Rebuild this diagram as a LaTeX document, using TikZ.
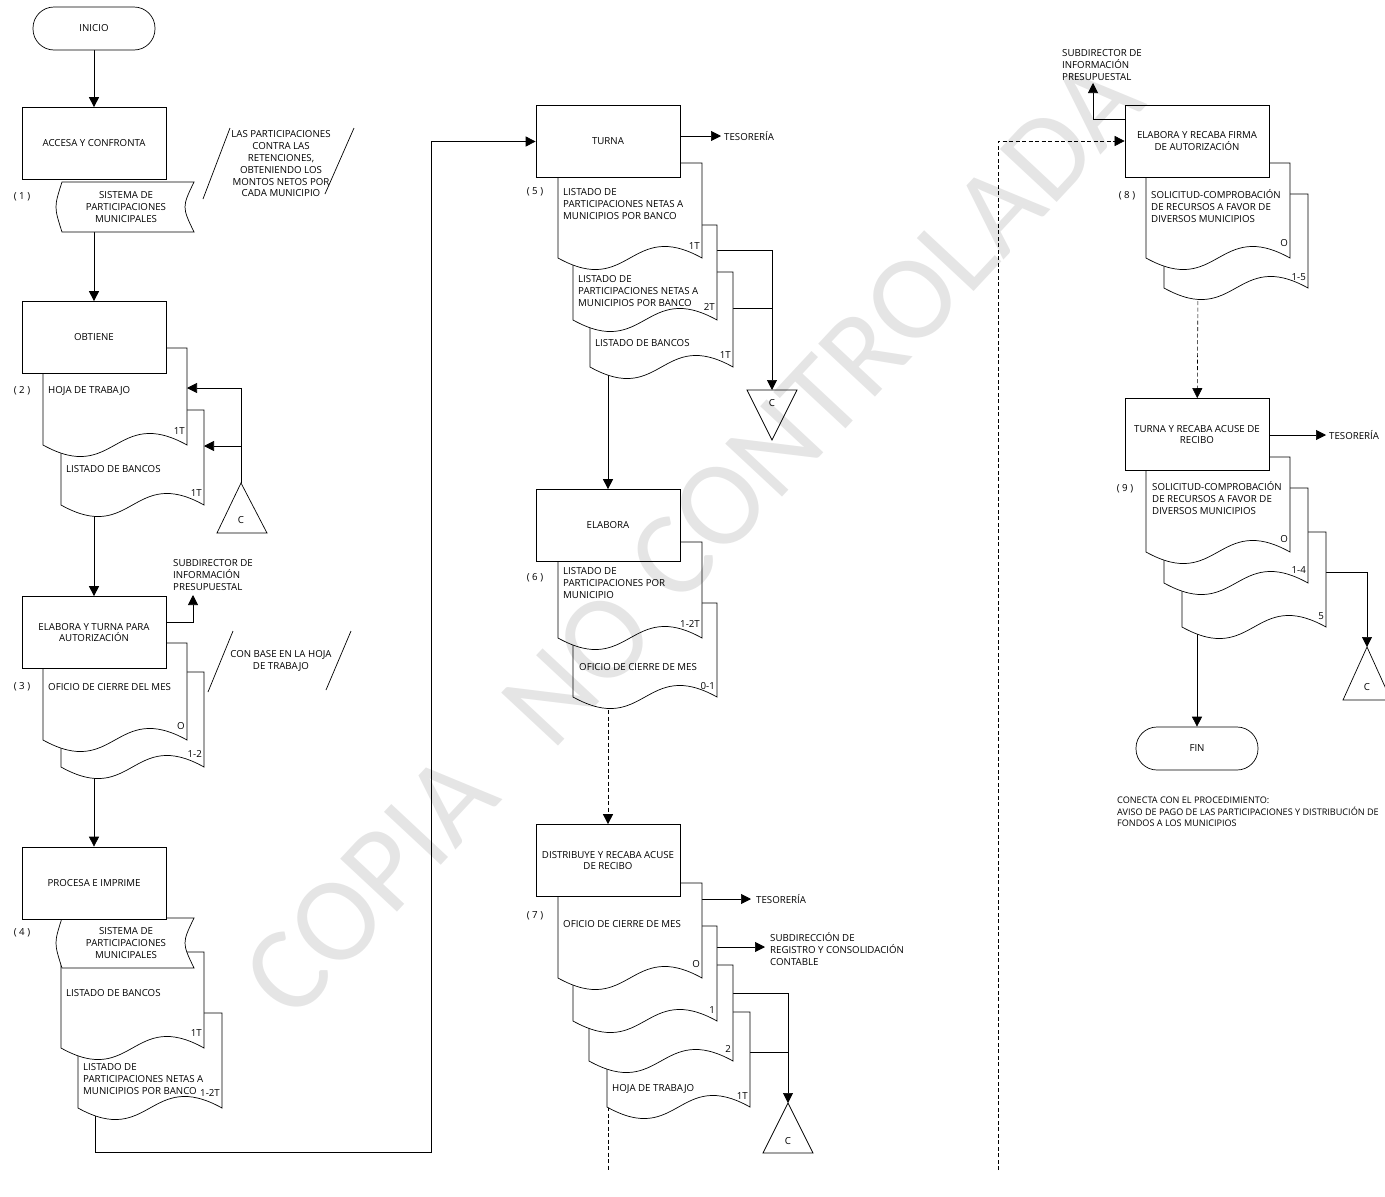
\documentclass[tikz,border=0pt]{standalone}
\usepackage{fontspec}
\setmainfont{Open Sans}
\newfontfamily\wmfont{Carlito}
\usetikzlibrary{arrows.meta,backgrounds}
\newcommand\fs{\fontsize{9.7}{11.8}\selectfont}
\tikzset{
  ln/.style={line width=0.7pt},
  proc/.style={ln,draw,fill=white,rectangle,minimum width=144pt,minimum height=72pt,inner sep=2pt,align=center,font=\fs},
  term/.style={ln,draw,fill=white,rectangle,rounded corners=21pt,minimum width=122pt,minimum height=43pt,font=\fs},
  lbl/.style={inner sep=0pt,font=\fs,align=left,anchor=west},
  clbl/.style={inner sep=0pt,font=\fs,align=center},
  cnt/.style={inner sep=0pt,font=\fs,anchor=east},
  arr/.style={ln,-{Triangle[length=10pt,width=10pt]}},
  dsh/.style={line width=0.6pt,dash pattern=on 4pt off 2.5pt},
  darr/.style={dsh,-{Triangle[length=10pt,width=10pt]}},
  shp/.style={ln,draw,fill=white},
  wm/.style={rotate=47,inner sep=0pt,font=\wmfont\fontsize{121}{121}\selectfont,text=black,text opacity=0.1},
}
\newcommand\docsh[4]{\path[shp] (#1,#3) -- (#2,#3) -- (#2,#4) .. controls ({(#1+#2)/2},{#4-40}) and ({(#1+#2)/2},{#4+40}) .. (#1,#4) -- cycle;}
\newcommand\tapesh[4]{\path[shp] (#1+4,#3) -- (#2,#3) .. controls (#2-12,{(#3+#4)/2}) .. (#2,#4) -- (#1+4,#4) .. controls (#1-4,{(#3+#4)/2}) .. (#1+4,#3) -- cycle;}
\begin{document}
\begin{tikzpicture}[x=1pt,y=-1pt]
\useasboundingbox (0,0) rectangle (1385,1197);
% ---------- column 1 ----------
\node[term] (inicio) at (94,28.5) {INICIO};
\tapesh{58}{194}{182}{232}
\node[proc] (p1) at (94,143.5) {ACCESA Y CONFRONTA};
\node[clbl] (t1txt) at (126,207) {SISTEMA DE\\PARTICIPACIONES\\MUNICIPALES};
\node[clbl] (n1) at (22,197) {( 1 )};
\draw[ln] (203,199) -- (230,128);
\draw[ln] (325,194) -- (354,128);
\node[clbl] (a1) at (281,164) {LAS PARTICIPACIONES\\CONTRA LAS\\RETENCIONES,\\OBTENIENDO LOS\\MONTOS NETOS POR\\CADA MUNICIPIO};
% step 2
\docsh{61}{204}{410}{505}
\docsh{43}{187}{348}{445}
\node[proc] (p2) at (94,337.5) {OBTIENE};
\node[lbl] (d2at) at (48,391) {HOJA DE TRABAJO};
\node[cnt] (d2ac) at (185,431) {1T};
\node[lbl] (d2bt) at (66,469) {LISTADO DE BANCOS};
\node[cnt] (d2bc) at (202,493) {1T};
\node[clbl] (n2) at (22,391) {( 2 )};
\path[shp] (241,483) -- (267,533) -- (217,533) -- cycle;
\node[clbl] (c2t) at (241,520) {C};
% step 3
\docsh{61}{204}{672}{767}
\docsh{43}{187}{643}{740}
\node[proc] (p3) at (94,632.5) {ELABORA Y TURNA PARA\\AUTORIZACIÓN};
\node[lbl] (d3at) at (48,687) {OFICIO DE CIERRE DEL MES};
\node[cnt] (d3ac) at (185,726) {O};
\node[cnt] (d3bc) at (202,754) {1-2};
\node[clbl] (n3) at (22,687) {( 3 )};
\node[lbl] (s3) at (173,575) {SUBDIRECTOR DE\\INFORMACIÓN\\PRESUPUESTAL};
\draw[ln] (208,692) -- (233,631);
\draw[ln] (326,690) -- (351,631);
\node[clbl] (a2) at (281,661) {CON BASE EN LA HOJA\\DE TRABAJO};
% step 4
\docsh{78}{222}{1013}{1108}
\docsh{61}{204}{952}{1048}
\tapesh{58}{194}{918}{968}
\node[proc] (p4) at (94,883) {PROCESA E IMPRIME};
\node[clbl] (t4txt) at (126,943) {SISTEMA DE\\PARTICIPACIONES\\MUNICIPALES};
\node[lbl] (d4at) at (66,993) {LISTADO DE BANCOS};
\node[cnt] (d4ac) at (202,1033) {1T};
\node[lbl] (d4bt) at (83,1079) {LISTADO DE\\PARTICIPACIONES NETAS A\\MUNICIPIOS POR BANCO};
\node[cnt] (d4bc) at (220,1093) {1-2T};
\node[clbl] (n4) at (22,933) {( 4 )};
% ---------- column 2 ----------
\docsh{590}{733}{272}{367}
\docsh{573}{717}{225}{320}
\docsh{558}{702}{163}{258}
\node[proc] (p5) at (608,141.5) {TURNA};
\node[lbl] (d5at) at (563,204) {LISTADO DE\\PARTICIPACIONES NETAS A\\MUNICIPIOS POR BANCO};
\node[cnt] (d5ac) at (700,246) {1T};
\node[lbl] (d5bt) at (578,291) {LISTADO DE\\PARTICIPACIONES NETAS A\\MUNICIPIOS POR BANCO};
\node[cnt] (d5bc) at (715,307) {2T};
\node[lbl] (d5ct) at (595,343) {LISTADO DE BANCOS};
\node[cnt] (d5cc) at (731,355) {1T};
\node[clbl] (n5) at (535,192) {( 5 )};
\node[lbl] (tes5) at (724,136) {TESORERÍA};
\path[shp] (747,390) -- (797,390) -- (772,440) -- cycle;
\node[clbl] (c5t) at (772,403) {C};
% step 6
\docsh{573}{717}{603}{697}
\docsh{558}{702}{542}{638}
\node[proc] (p6) at (608,525.5) {ELABORA};
\node[lbl] (d6at) at (563,583) {LISTADO DE\\PARTICIPACIONES POR\\MUNICIPIO};
\node[cnt] (d6ac) at (700,624) {1-2T};
\node[lbl] (d6bt) at (579,667) {OFICIO DE CIERRE DE MES};
\node[cnt] (d6bc) at (715,686) {0-1};
\node[clbl] (n6) at (535,578) {( 6 )};
% step 7
\docsh{607}{750}{1012}{1107}
\docsh{589}{733}{965}{1061}
\docsh{573}{717}{926}{1021}
\docsh{558}{702}{883}{978}
\node[proc] (p7) at (608,860.5) {DISTRIBUYE Y RECABA ACUSE\\DE RECIBO};
\node[lbl] (d7at) at (563,924) {OFICIO DE CIERRE DE MES};
\node[cnt] (d7ac) at (700,964) {O};
\node[cnt] (d7bc) at (715,1010) {1};
\node[cnt] (d7cc) at (731,1049) {2};
\node[lbl] (d7dt) at (612,1089) {HOJA DE TRABAJO};
\node[cnt] (d7dc) at (748,1096) {1T};
\node[clbl] (n7) at (535,916) {( 7 )};
\node[lbl] (tes7) at (756,899) {TESORERÍA};
\node[lbl] (sub7) at (770,949) {SUBDIRECCIÓN DE\\REGISTRO Y CONSOLIDACIÓN\\CONTABLE};
\path[shp] (788,1103) -- (813,1153) -- (763,1153) -- cycle;
\node[clbl] (c7t) at (788,1141) {C};
% ---------- column 3 ----------
\docsh{1164}{1308}{194}{288}
\docsh{1146}{1290}{163}{258}
\node[proc] (p8) at (1197,141) {ELABORA Y RECABA FIRMA\\DE AUTORIZACIÓN};
\node[lbl] (d8at) at (1151,206) {SOLICITUD-COMPROBACIÓN\\DE RECURSOS A FAVOR DE\\DIVERSOS MUNICIPIOS};
\node[cnt] (d8ac) at (1288,243) {O};
\node[cnt] (d8bc) at (1306,277) {1-5};
\node[clbl] (n8) at (1127,196) {( 8 )};
\node[lbl] (s8) at (1062,65) {SUBDIRECTOR DE\\INFORMACIÓN\\PRESUPUESTAL};
% step 9
\docsh{1182}{1326}{532}{627}
\docsh{1164}{1308}{488}{583}
\docsh{1146}{1290}{457}{552}
\node[proc] (p9) at (1197,434.5) {TURNA Y RECABA ACUSE DE\\RECIBO};
\node[lbl] (d9at) at (1152,498) {SOLICITUD-COMPROBACIÓN\\DE RECURSOS A FAVOR DE\\DIVERSOS MUNICIPIOS};
\node[cnt] (d9ac) at (1288,539) {O};
\node[cnt] (d9bc) at (1306,570) {1-4};
\node[cnt] (d9cc) at (1324,616) {5};
\node[clbl] (n9) at (1125,489) {( 9 )};
\node[lbl] (tes9) at (1329,435) {TESORERÍA};
\path[shp] (1367,647) -- (1391,700) -- (1343,700) -- cycle;
\node[clbl] (c9t) at (1367,687) {C};
\node[term] (fin) at (1197,748.5) {FIN};
\node[lbl,font=\fontsize{9.1}{11.6}\selectfont] (con) at (1117,812) {CONECTA CON EL PROCEDIMIENTO:\\AVISO DE PAGO DE LAS PARTICIPACIONES Y DISTRIBUCIÓN DE\\FONDOS A LOS MUNICIPIOS};
% ---------- coordinates ----------
\coordinate (t1) at (94,207);
\coordinate (c2) at (241,483);
\coordinate (c2j) at (241,446);
\coordinate (d2ar) at (187,388);
\coordinate (d2br) at (204,446);
\coordinate (b2) at (94,505);
\coordinate (p3o) at (166,622);
\coordinate (u3) at (193,595);
\coordinate (b3) at (94,767);
\coordinate (b4) at (95,1108);
\coordinate (k1) at (431,1152);
\coordinate (p5o) at (680,136);
\coordinate (d5br) at (717,250);
\coordinate (d5cr) at (733,308);
\coordinate (c5) at (772,390);
\coordinate (c5j) at (772,308);
\coordinate (b5) at (608,367);
\coordinate (b6) at (608,697);
\coordinate (d7ar) at (702,899);
\coordinate (d7br) at (717,947);
\coordinate (d7cr) at (733,993);
\coordinate (d7dr) at (750,1052);
\coordinate (c7) at (788,1103);
\coordinate (c7j) at (788,1052);
\coordinate (b7) at (608,1107);
\coordinate (e7) at (608,1170);
\coordinate (e8) at (998,1170);
\coordinate (p8o) at (1125,119);
\coordinate (u8) at (1093,83);
\coordinate (b8) at (1198,288);
\coordinate (p9o) at (1269,435);
\coordinate (d9cr) at (1326,572);
\coordinate (c9) at (1367,647);
\coordinate (b9) at (1197,627);
% ---------- connectors ----------
\begin{pgfonlayer}{background}
\fill[white] (0,0) rectangle (1385,1197);
\draw[arr] (inicio) -- (p1);
\draw[arr] (t1) -- (p2);
\draw[arr] (c2) |- (d2ar);
\draw[arr] (c2j) -- (d2br);
\draw[arr] (b2) -- (p3);
\draw[arr] (p3o) -| (u3);
\draw[arr] (b3) -- (p4);
\draw[arr] (b4) |- (k1) |- (p5.west);
\draw[arr] (p5o) -- ([xshift=-3pt]tes5.west);
\draw[arr] (d5br) -| (c5);
\draw[ln] (d5cr) -- (c5j);
\draw[arr] (b5) -- (p6);
\draw[darr] (b6) -- (p7);
\draw[arr] (d7ar) -- ([xshift=-5pt]tes7.west);
\draw[arr] (d7br) -- ([xshift=-5pt]sub7.west |- d7br);
\draw[arr] (d7cr) -| (c7);
\draw[ln] (d7dr) -- (c7j);
\draw[dsh] (b7) -- (e7);
\draw[darr] (e8) |- (p8.west);
\draw[arr] (p8o) -| (u8);
\draw[darr] (b8) -- (p9);
\draw[arr] (p9o) -- ([xshift=-3pt]tes9.west);
\draw[arr] (d9cr) -| (c9);
\draw[arr] (b9) -- (fin);
\end{pgfonlayer}
% ---------- watermark ----------
\node[wm] (wm1) at (370,885) {COPIA};
\node[wm] (wm2) at (578,668) {NO};
\node[wm] (wm3) at (885,330) {CONTROLADA};
\end{tikzpicture}
\end{document}
